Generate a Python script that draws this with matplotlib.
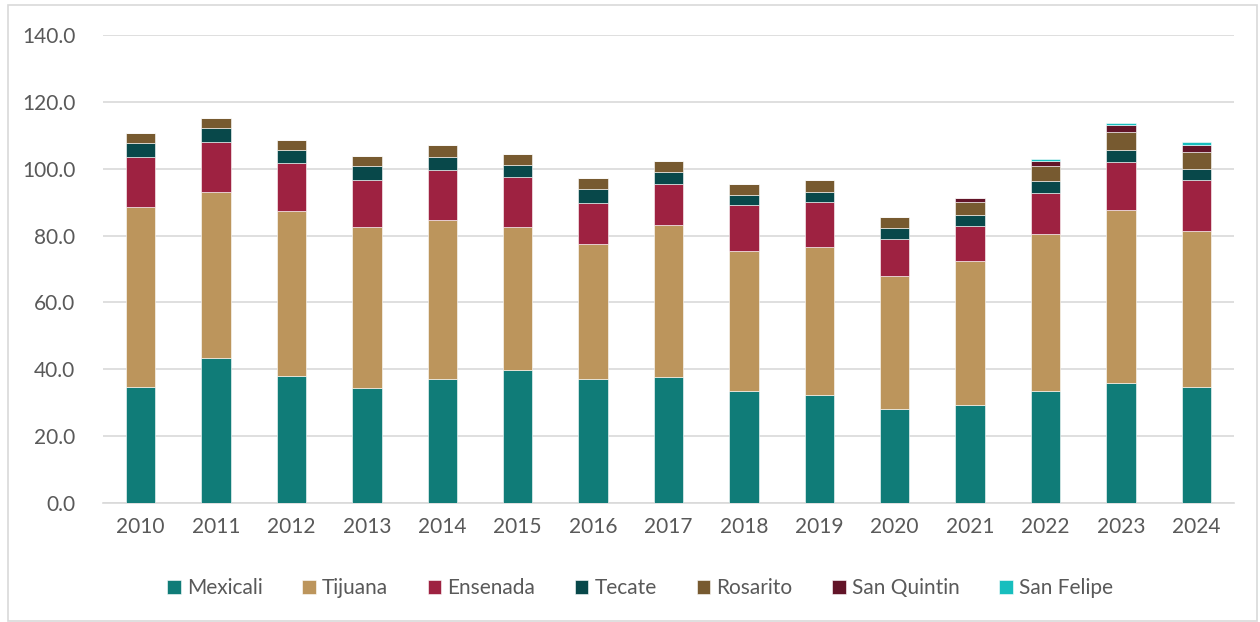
import numpy as np
import matplotlib
matplotlib.use("Agg")
import matplotlib.pyplot as plt
from matplotlib.patches import Rectangle
from matplotlib.ticker import FuncFormatter

YEARS = [str(y) for y in range(2010, 2025)]

MEXICALI    = [34.7, 43.4, 38.0, 34.4, 37.1, 39.8, 37.1, 37.7, 33.5, 32.3, 28.1, 29.3, 33.5, 35.9, 34.7]
TIJUANA     = [53.8, 49.6, 49.3, 48.2, 47.6, 42.8, 40.4, 45.5, 41.9, 44.3, 39.8, 43.1, 47.0, 51.7, 46.7]
ENSENADA    = [15.1, 15.1, 14.5, 14.1, 14.8, 14.9, 12.2, 12.2, 13.7, 13.4, 11.2, 10.4, 12.1, 14.5, 15.1]
TECATE      = [4.2, 4.2, 3.8, 4.1, 4.0, 3.6, 4.2, 3.6, 3.0, 3.0, 3.3, 3.4, 3.6, 3.6, 3.3]
ROSARITO    = [2.8, 2.9, 2.9, 3.0, 3.6, 3.3, 3.3, 3.3, 3.3, 3.6, 3.2, 3.9, 4.6, 5.3, 5.2]
SAN_QUINTIN = [0, 0, 0, 0, 0, 0, 0, 0, 0, 0, 0, 1.1, 1.5, 2.0, 2.2]
SAN_FELIPE  = [0, 0, 0, 0, 0, 0, 0, 0, 0, 0, 0, 0, 0.6, 0.7, 0.9]

SERIES = [
    ("Mexicali",    MEXICALI,    "#107C78"),
    ("Tijuana",     TIJUANA,     "#BC955C"),
    ("Ensenada",    ENSENADA,    "#9E2241"),
    ("Tecate",      TECATE,      "#08484A"),
    ("Rosarito",    ROSARITO,    "#775A30"),
    ("San Quintin", SAN_QUINTIN, "#621428"),
    ("San Felipe",  SAN_FELIPE,  "#17BEBE"),
]

plt.rcParams["font.family"] = ["Lato", "DejaVu Sans"]
TXT = "#595959"

fig = plt.figure(figsize=(12.6, 6.22), dpi=100)
ax = fig.add_axes([103 / 1260, 1 - 503 / 622, (1234 - 103) / 1260, (503 - 35) / 622])

x = np.arange(len(YEARS))
bottom = np.zeros(len(YEARS))
for name, vals, col in SERIES:
    v = np.array(vals, dtype=float)
    ax.bar(x, v, width=0.39, bottom=bottom, color=col, label=name,
           edgecolor="white", linewidth=0.4, zorder=3)
    bottom += v

ax.set_xlim(-0.5, len(YEARS) - 0.5)
ax.set_ylim(0, 140)
ax.set_yticks(np.arange(0, 141, 20))
ax.yaxis.set_major_formatter(FuncFormatter(lambda v, p: f"{v:.1f}"))
ax.set_xticks(x)
ax.set_xticklabels(YEARS)
ax.grid(axis="y", color="#D9D9D9", lw=1.2, zorder=0)
for s in ["top", "right", "left"]:
    ax.spines[s].set_visible(False)
ax.spines["bottom"].set_color("#D9D9D9")
ax.spines["bottom"].set_linewidth(1.2)
ax.tick_params(axis="both", length=0, labelsize=15, colors=TXT)
ax.tick_params(axis="y", pad=20)
ax.tick_params(axis="x", pad=10)

leg = fig.legend(loc="center", bbox_to_anchor=(640 / 1260, 1 - 588 / 622), ncol=7,
                 frameon=False, fontsize=15, handlelength=0.65, handleheight=0.65,
                 handletextpad=0.3, columnspacing=1.9)
for t in leg.get_texts():
    t.set_color(TXT)

fig.patches.append(Rectangle((8 / 1260, 0.002), 1249 / 1260, 1 - 5 / 622 - 0.002,
                             transform=fig.transFigure, fill=False,
                             edgecolor="#D9D9D9", lw=1.2))

fig.savefig("out.png", dpi=100)
